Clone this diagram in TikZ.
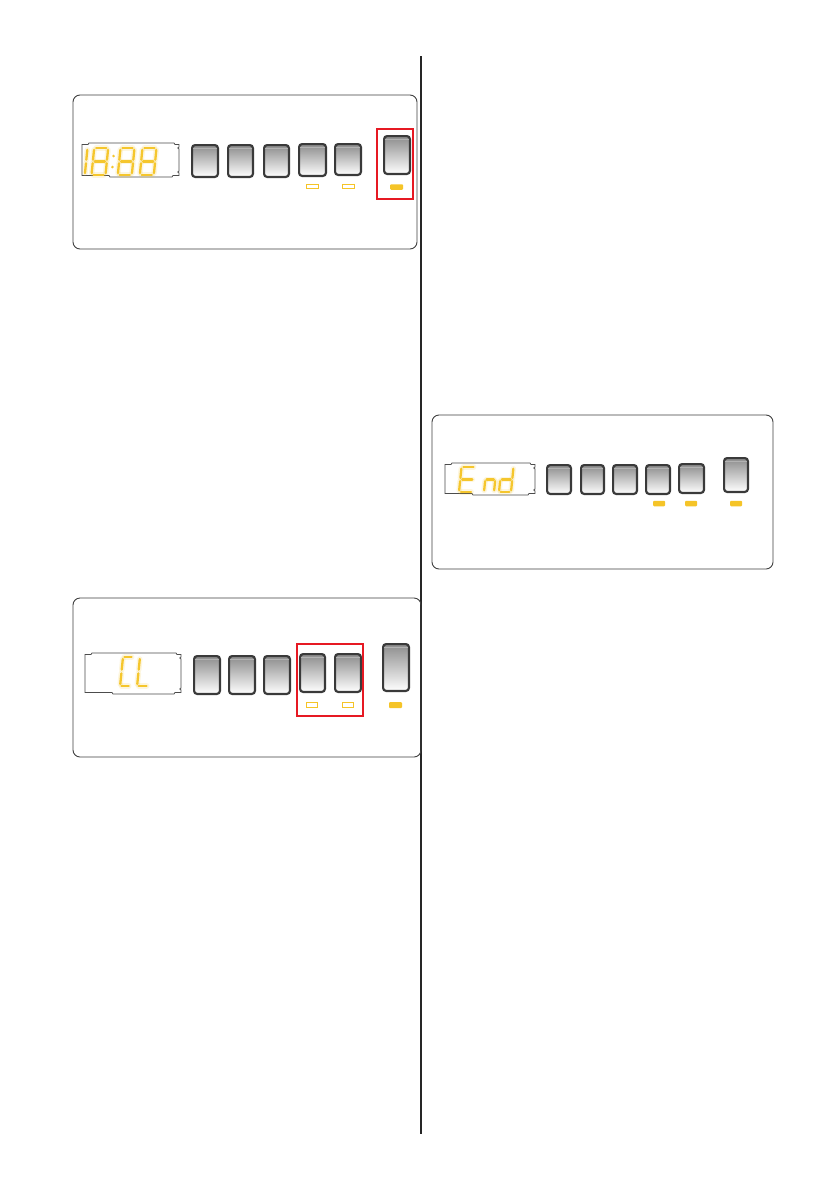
\documentclass[tikz,border=0pt]{standalone}
\usetikzlibrary{calc}
\definecolor{segY}{RGB}{245,198,45}
\definecolor{ledY}{RGB}{245,196,40}
\definecolor{btnEdge}{RGB}{58,58,58}
\definecolor{redB}{RGB}{230,25,35}
\tikzset{
  panel/.style={draw=black!75, line width=0.9pt, rounded corners=7pt},
  btn/.style={draw=btnEdge, line width=2.2pt, rounded corners=3pt, top color=black!45, bottom color=white, inner sep=0pt, outer sep=0pt},
  bevel/.style={draw=black!30, line width=0.7pt},
  lcd/.style={draw=black!70, line width=0.8pt, fill=white},
  seg/.style={draw=segY, line width=2.3pt, line cap=round},
  segglow/.style={draw=segY, line width=5.5pt, line cap=round, opacity=0.15},
  ledoff/.style={draw=ledY, line width=0.9pt, fill=white, inner sep=0pt, outer sep=0pt},
  ledon/.style={fill=ledY, draw=none, rounded corners=1pt, inner sep=0pt, outer sep=0pt},
  redbox/.style={draw=redB, line width=1.3pt, inner sep=0pt, outer sep=0pt},
  divider/.style={draw=black!85, line width=1.3pt},
}
% button: name, x0, y0, x1, y1 (outer extents)
\newcommand\btn[5]{%
  \node[btn, minimum width={#4-#2-2.2}, minimum height={#5-#3-2.2}] (#1) at ({(#2+#4)/2},{(#3+#5)/2}) {};
  \draw[bevel] ([xshift=1.3pt,yshift=-3.4pt]#1.north west) -- ([xshift=-1.3pt,yshift=-3.4pt]#1.north east);
}
% LCD window outline: x0, y0, x1, y1
\newcommand\lcdwin[4]{%
  \draw[lcd] (#1,#2+1.5) -- ({#1+6},#2+1.5) -- ({#1+7},#2) -- ({#3-5},#2) -- ({#3-4},#2+1.5) -- (#3,#2+1.5)
    -- (#3,#2+4) -- ({#3-1.2},#2+5) -- (#3,#2+6) -- (#3,#4-6) -- ({#3-1.2},#4-5) -- (#3,#4-4) -- (#3,#4-1.5)
    -- ({#3-6},#4-1.5) -- ({#3-7},#4) -- ({#1+28},#4) -- ({#1+27},#4-1.5) -- (#1,#4-1.5) -- cycle;
}
\newcommand\segline[1]{\draw[segglow] #1; \draw[seg] #1;}
% seven segment digit: scope options, then flags a b c d e f g
\newcommand\sevseg[8]{%
  \begin{scope}[#1]
    \ifnum#2=1 \segline{(1.4,0)--(8.6,0)}\fi
    \ifnum#3=1 \segline{(10,1.4)--(10,8.7)}\fi
    \ifnum#4=1 \segline{(10,11.3)--(10,18.6)}\fi
    \ifnum#5=1 \segline{(1.4,20)--(8.6,20)}\fi
    \ifnum#6=1 \segline{(0,11.3)--(0,18.6)}\fi
    \ifnum#7=1 \segline{(0,1.4)--(0,8.7)}\fi
    \ifnum#8=1 \segline{(1.4,10)--(8.6,10)}\fi
  \end{scope}}
\begin{document}
\begin{tikzpicture}[x=1pt,y=-1pt]
\useasboundingbox (0,0) rectangle (839,1191);
\fill[white] (0,0) rectangle (839,1191);

% divider
\coordinate (dtop) at (421,56);
\coordinate (dbot) at (421,1134);
\draw[divider] (dtop) -- (dbot);

% ---------- Panel 1 ----------
\draw[panel] (73,95) rectangle (417,249);
\lcdwin{82}{143}{179}{177}
\sevseg{shift={(73.5,148)},xslant=0.1,xscale=1.4,yscale=1.35}{0}{1}{1}{0}{0}{0}{0}
\sevseg{shift={(94.2,148)},xslant=0.1,xscale=1.4,yscale=1.35}{1}{1}{1}{1}{1}{1}{1}
\sevseg{shift={(120.5,148)},xslant=0.1,xscale=1.4,yscale=1.35}{1}{1}{1}{1}{1}{1}{1}
\sevseg{shift={(142.5,148)},xslant=0.1,xscale=1.4,yscale=1.35}{1}{1}{1}{1}{1}{1}{1}
\fill[segY] (113.6,156) circle (1.4);
\fill[segY] (112.4,167) circle (1.4);
\btn{pa1}{191}{144}{219}{178}
\btn{pa2}{227}{144}{254}{178}
\btn{pa3}{263}{144}{290}{178}
\btn{pa4}{298}{143}{327}{177}
\btn{pa5}{334}{143}{362}{176}
\btn{pa6}{383}{135}{411}{175}
\node[ledoff, minimum width=12pt, minimum height=3.8pt] (la4) at (312.3,186.5) {};
\node[ledoff, minimum width=12pt, minimum height=3.8pt] (la5) at (348,186.5) {};
\node[ledon, minimum width=13pt, minimum height=5.5pt] (la6) at (396.7,187) {};

% ---------- Panel 2 ----------
\draw[panel] (73,598) rectangle (421,757);
\lcdwin{85}{653}{181}{694}
\sevseg{shift={(123,657)},xslant=0.1,xscale=1.0,yscale=1.45}{1}{0}{0}{1}{1}{1}{0}
\sevseg{shift={(140,657)},xslant=0.1,xscale=1.1,yscale=1.45}{0}{0}{0}{1}{1}{1}{0}
\btn{pb1}{193}{655}{221}{695}
\btn{pb2}{228}{655}{256}{695}
\btn{pb3}{263}{655}{291}{695}
\btn{pb4}{299}{653}{326}{693}
\btn{pb5}{334}{653}{362}{693}
\btn{pb6}{382}{643}{410}{692}
\node[ledoff, minimum width=11pt, minimum height=4.5pt] (lb4) at (312,705) {};
\node[ledoff, minimum width=11pt, minimum height=4.5pt] (lb5) at (348,705) {};
\node[ledon, minimum width=13pt, minimum height=6pt] (lb6) at (395.5,705) {};

% ---------- Panel 3 ----------
\draw[panel] (432,415) rectangle (773,569);
\lcdwin{445}{463}{535}{495}
\sevseg{shift={(461.5,467)},xslant=0.1,xscale=1.4,yscale=1.25}{1}{0}{0}{1}{1}{1}{1}
\sevseg{shift={(486.5,467)},xslant=0.1,xscale=1.0,yscale=1.25}{0}{0}{1}{0}{1}{0}{1}
\sevseg{shift={(501.5,467)},xslant=0.1,xscale=1.2,yscale=1.25}{0}{1}{1}{1}{1}{0}{1}
\btn{pc1}{546}{464}{572}{495}
\btn{pc2}{580}{464}{605}{495}
\btn{pc3}{612}{464}{638}{495}
\btn{pc4}{645}{464}{671}{495}
\btn{pc5}{678}{463}{705}{494}
\btn{pc6}{723}{457}{749}{493}
\node[ledon, minimum width=12pt, minimum height=5.5pt] (lc4) at (659,503.5) {};
\node[ledon, minimum width=12pt, minimum height=5.5pt] (lc5) at (691,503.5) {};
\node[ledon, minimum width=12pt, minimum height=5.5pt] (lc6) at (736,503.5) {};

% ---------- highlight frames ----------
\node[redbox, minimum width=36pt, minimum height=70pt] (ra) at (395,164) {};
\node[redbox, minimum width=66pt, minimum height=72pt] (rb) at (330,680) {};
\end{tikzpicture}
\end{document}
